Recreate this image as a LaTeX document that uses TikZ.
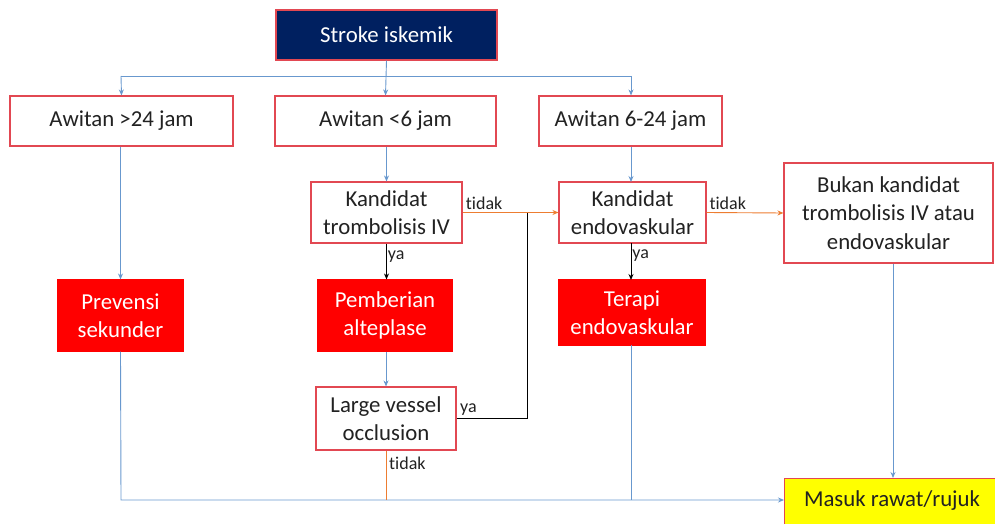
\documentclass[tikz,border=0pt]{standalone}
\usepackage{fontspec}
\setmainfont{Carlito}[Ligatures=NoCommon]
\usetikzlibrary{arrows.meta}
\definecolor{navy}{RGB}{0,32,96}
\definecolor{bred}{RGB}{226,72,82}
\definecolor{fillred}{RGB}{255,0,0}
\definecolor{lineblue}{RGB}{104,152,206}
\definecolor{lineorange}{RGB}{237,125,49}
\definecolor{txt}{RGB}{34,34,34}
\definecolor{yel}{RGB}{255,255,0}
\begin{document}
\begin{tikzpicture}[x=1pt,y=-1pt,
  base/.style={draw=bred, line width=1.1pt, align=center, inner sep=0pt,
    font=\fontsize{22.8}{28.5}\selectfont},
  plainbox/.style={base, fill=white, text=txt},
  redbox/.style={base, draw=fillred, fill=fillred, text=white},
  topbox/.style={base, fill=navy, text=white},
  endbox/.style={base, fill=yel, text=txt},
  blueline/.style={draw=lineblue, line width=0.9pt},
  orangeline/.style={draw=lineorange, line width=0.9pt},
  blackline/.style={draw=black, line width=0.9pt},
  tip/.style={-{Stealth[length=6pt,width=5pt]}},
  lbl/.style={font=\fontsize{18}{20}\selectfont, text=txt, inner sep=1pt}]
\useasboundingbox (0,0) rectangle (995,524);

% boxes
\node[topbox, minimum width=221pt, minimum height=50pt] (stroke) at (386.5,35) {Stroke iskemik};
\node[plainbox, minimum width=223pt, minimum height=50pt] (a24) at (121.5,121) {Awitan >24 jam};
\node[plainbox, minimum width=221pt, minimum height=50pt] (a6) at (385.5,121) {Awitan <6 jam};
\node[plainbox, minimum width=183pt, minimum height=50pt] (a624) at (630.5,121) {Awitan 6-24 jam};
\node[plainbox, minimum width=151pt, minimum height=61pt] (kiv) at (386.5,212.5) {Kandidat\\trombolisis IV};
\node[plainbox, minimum width=147pt, minimum height=61pt] (kendo) at (632.5,212.5) {Kandidat\\endovaskular};
\node[plainbox, minimum width=209pt, minimum height=100pt] (bukan) at (888.5,213) {Bukan kandidat\\trombolisis IV atau\\endovaskular};
\node[redbox, minimum width=125pt, minimum height=71pt] (prev) at (120.5,315.5) {Prevensi\\sekunder};
\node[redbox, minimum width=134pt, minimum height=71pt] (alte) at (385,315.5) {Pemberian\\alteplase};
\node[redbox, minimum width=146pt, minimum height=65pt] (terapi) at (632,312.5) {Terapi\\endovaskular};
\node[plainbox, minimum width=140pt, minimum height=63pt] (lvo) at (386,418.5) {Large vessel\\occlusion};
\node[endbox, minimum width=213pt, minimum height=56pt, anchor=north west] (masuk) at (784,478) {};
\node[font=\fontsize{22.8}{28.5}\selectfont, text=txt] (masuktxt) at (892,501) {Masuk rawat/rujuk};

% distribution from the top box
\draw[blueline] (121,76) -- (631,76);
\draw[blueline, tip] (stroke.south) -- (a6.north);
\draw[blueline, tip] (121,76) -- (a24.north);
\draw[blueline, tip] (631,76) -- (a624.north -| 631,0);

% left branch
\draw[blueline, tip] (a24.south -| prev.north) -- (prev.north);
\coordinate (join) at (121,500);
\draw[blueline, tip] (prev.south) -- (join) -- (masuk.west |- join);

% middle branch
\draw[blueline, tip] (a6.south -| kiv.north) -- (kiv.north);
\draw[blackline, tip] (kiv.south) -- (alte.north -| kiv.south) node[lbl, pos=0.35, right] {ya};
\draw[orangeline, tip] (kiv.east) -- (kendo.west) node[lbl, pos=0.02, above right, yshift=1pt] {tidak};
\draw[blueline, tip] (alte.south -| lvo.north) -- (lvo.north);
\coordinate (up) at (527,418);
\draw[blackline] (lvo.east |- up) -- (up) -- (up |- kiv.east);
\node[lbl, anchor=south west] (lvoya) at (459,417) {ya};
\draw[orangeline] (lvo.south) -- (lvo.south |- join);
\node[lbl, anchor=west] (lvotidak) at (388,463) {tidak};

% right branches
\draw[blueline, tip] (a624.south -| 631,0) -- (631,182);
\draw[blackline, tip] (631,243) -- (631,280) node[lbl, pos=0.35, right] {ya};
\draw[orangeline, tip] (kendo.east) -- (bukan.west) node[lbl, pos=0.02, above right, yshift=1pt] {tidak};
\draw[blueline] (631,345) -- (631,500);
\draw[blueline, tip] (bukan.south -| 893,0) -- (893,478);
\end{tikzpicture}
\end{document}
